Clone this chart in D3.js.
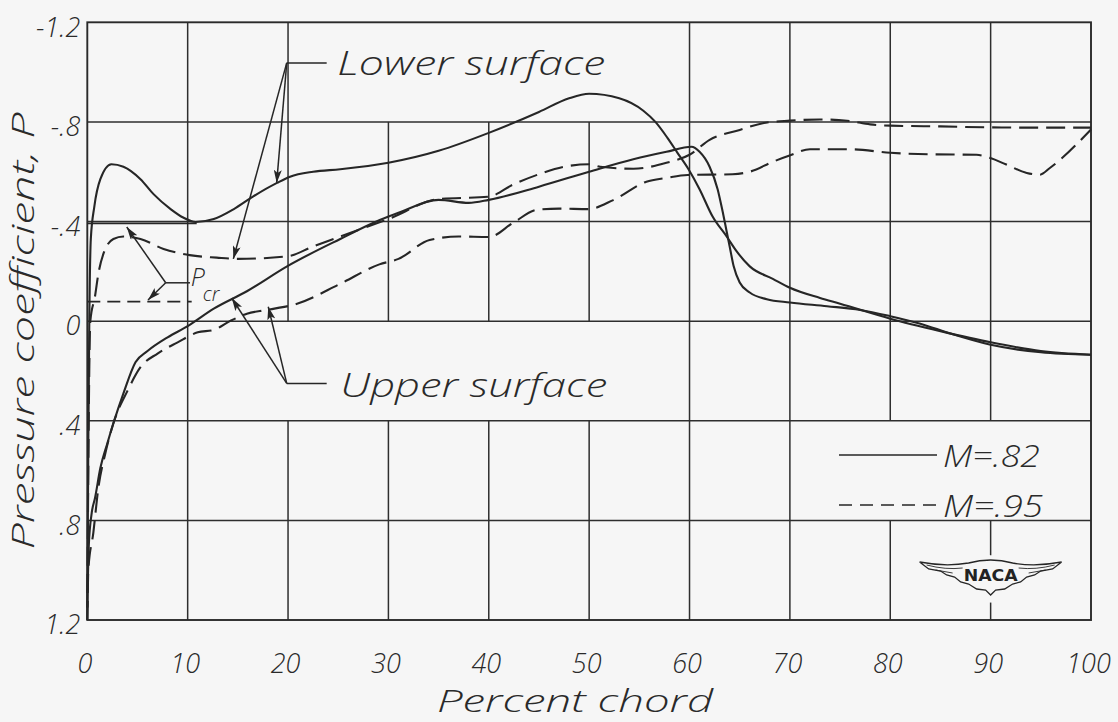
<!DOCTYPE html>
<html><head><meta charset="utf-8">
<script src="https://cdn.jsdelivr.net/npm/d3@7"></script>
<style>
html,body{margin:0;padding:0;background:#f6f6f6;}
svg{display:block;}
.lbl{font-family:"Open Sans","DejaVu Sans",sans-serif;font-style:italic;font-weight:300;fill:#2a2a2a;}
</style></head><body>
<svg id="c" width="1118" height="722"></svg>
<script>
// ---------------- data ----------------
const chordTicks = [0,10,20,30,40,50,60,70,80,90,100];
const pTicks = [-1.2,-0.8,-0.4,0,0.4,0.8,1.2];
const pTickLabels = ["-1.2","-.8","-.4","0",".4",".8","1.2"];

// Lower surface, M = .82 (solid)
const lowerM82Chord = [0,0.1,0.2,0.35,0.7,1.3,2.4,3.6,5.3,6.6,8.3,9.6,10.8,12.6,14.6,16.5,18.9,20.2,22.5,25.2,30,35,40,45,48,50,53,55.4,56.6,57.8,58.8,59.9,61,62.3,63.7,64.7,66,68.3,70,73,75,80,85,90,95,100];
const lowerM82P     = [1.15,0.5,0.0,-0.33,-0.46,-0.57,-0.63,-0.62,-0.57,-0.51,-0.45,-0.415,-0.398,-0.41,-0.45,-0.5,-0.555,-0.58,-0.60,-0.61,-0.636,-0.684,-0.756,-0.84,-0.895,-0.913,-0.895,-0.845,-0.80,-0.736,-0.676,-0.61,-0.53,-0.42,-0.34,-0.28,-0.22,-0.17,-0.134,-0.093,-0.07,-0.01,0.04,0.085,0.12,0.135];

// Upper surface, M = .82 (solid)
const upperM82Chord = [0,0.15,0.44,0.77,1.3,2.0,2.6,3.6,4.8,6.0,8.0,10,12.6,15.9,19.9,25.2,29.2,31,35,38,40,45,50,54.4,57.7,60.2,61,62,62.8,63.3,63.7,64,64.4,65,66,67.7,70,73.7,77,80,83,86,90,95,100];
const upperM82P     = [1.15,0.9,0.77,0.71,0.59,0.49,0.41,0.29,0.165,0.12,0.065,0.02,-0.05,-0.12,-0.22,-0.33,-0.407,-0.435,-0.487,-0.475,-0.487,-0.54,-0.60,-0.65,-0.68,-0.70,-0.68,-0.62,-0.53,-0.44,-0.36,-0.30,-0.22,-0.155,-0.115,-0.088,-0.075,-0.06,-0.045,-0.02,0.01,0.05,0.095,0.125,0.135];

// Lower surface, M = .95 (dashed)
const lowerM95Chord = [0,0.1,0.3,0.77,1.1,1.6,2.6,3.6,5.3,7.6,10.2,12.9,15,19.9,22.5,25.2,30,35,40,42.5,45,47.5,50,51.1,54.4,57.7,60,62,65,67.6,70,73,75.7,78,80,85,90,95,100];
const lowerM95P     = [1.2,0.6,0.0,-0.1,-0.19,-0.27,-0.33,-0.34,-0.33,-0.29,-0.265,-0.255,-0.25,-0.26,-0.30,-0.34,-0.41,-0.49,-0.50,-0.55,-0.59,-0.62,-0.63,-0.62,-0.612,-0.636,-0.668,-0.728,-0.768,-0.797,-0.805,-0.81,-0.805,-0.79,-0.785,-0.782,-0.778,-0.777,-0.777];

// Upper surface, M = .95 (dashed)
const upperM95Chord = [0,0.1,0.6,1.1,1.8,2.6,4.0,5.3,7.0,9.0,11,12.6,14.2,15.9,17.9,20.9,25.2,29.1,31,34.1,37,40,42.4,44.8,47,49.9,52.4,55.7,57.7,59.8,64.3,66,68.3,69.9,72,76,80,84,88.6,89.9,91.5,93.6,94.9,95.9,100];
const upperM95P     = [1.2,1.0,0.85,0.67,0.53,0.41,0.28,0.185,0.13,0.085,0.045,0.035,0.0,-0.03,-0.045,-0.07,-0.15,-0.228,-0.25,-0.326,-0.34,-0.338,-0.394,-0.447,-0.452,-0.45,-0.486,-0.56,-0.575,-0.587,-0.59,-0.60,-0.64,-0.664,-0.69,-0.69,-0.676,-0.67,-0.668,-0.656,-0.63,-0.595,-0.588,-0.615,-0.77];

// critical pressure coefficients
const pcrM82 = -0.393, pcrM82End = 10.9;
const pcrM95 = -0.078, pcrM95End = 10.4;

const legendLabels = ["M=.82","M=.95"];

// ---------------- drawing ----------------
const svg = d3.select("#c");
const x = d3.scaleLinear().domain([0,100]).range([87.3,1091]);
const y = d3.scaleLinear().domain([-1.2,1.2]).range([22.3,620]);
const ink = "#262626";

svg.append("rect").attr("width",1118).attr("height",722).attr("fill","#f6f6f6");

const defs = svg.append("defs");
defs.append("marker").attr("id","ah").attr("viewBox","0 0 13 8").attr("refX",13).attr("refY",4)
  .attr("markerWidth",13).attr("markerHeight",8).attr("markerUnits","userSpaceOnUse").attr("orient","auto")
  .append("path").attr("d","M0,0 L13,4 L0,8 L3,4 Z").attr("fill",ink);

// grid: horizontal lines
const grid = svg.append("g").attr("stroke","#2e2e2e").attr("stroke-width",1.5).attr("fill","none");
grid.selectAll("line.h").data(pTicks.slice(1,-1)).join("line")
  .attr("x1",x(0)).attr("x2",x(100)).attr("y1",d=>y(d)).attr("y2",d=>y(d));

// vertical lines with gaps behind labels / legend / logo
const gaps = [
  {c:30,a:-1.2,b:-0.8},{c:40,a:-1.2,b:-0.8},{c:50,a:-1.2,b:-0.8},
  {c:20,a:0,b:0.4},{c:30,a:0,b:0.4},{c:40,a:0,b:0.4},{c:50,a:0,b:0.4},
  {c:80,a:0.4,b:0.8},{c:90,a:0.4,b:0.8},{c:90,a:0.94,b:1.13}
];
const vsegs = [];
chordTicks.slice(1,-1).forEach(c=>{
  const g = gaps.filter(d=>d.c===c).sort((a,b)=>a.a-b.a);
  let start = -1.2;
  g.forEach(d=>{ if(d.a>start) vsegs.push([c,start,d.a]); start=d.b; });
  if(start<1.2) vsegs.push([c,start,1.2]);
});
grid.selectAll("line.v").data(vsegs).join("line")
  .attr("x1",d=>x(d[0])).attr("x2",d=>x(d[0])).attr("y1",d=>y(d[1])).attr("y2",d=>y(d[2]));

// frame
svg.append("rect").attr("x",x(0)).attr("y",y(-1.2)).attr("width",x(100)-x(0)).attr("height",y(1.2)-y(-1.2))
  .attr("fill","none").attr("stroke","#2a2a2a").attr("stroke-width",1.9);

// axes tick labels
const xAxis = d3.axisBottom(x).tickValues(chordTicks).tickSize(0).tickPadding(0).tickFormat(d3.format("d"));
const gx = svg.append("g").attr("transform",`translate(-3,${y(1.2)+53})`).call(xAxis);
gx.select(".domain").remove();
gx.attr("font-family",null).attr("font-size",null);
gx.selectAll("text").attr("class","lbl").attr("dy",0).attr("fill",null)
  .style("font-size","27px").style("font-style","italic");

const yAxis = d3.axisLeft(y).tickValues(pTicks).tickSize(0).tickPadding(0).tickFormat((d,i)=>pTickLabels[i]);
const gy = svg.append("g").attr("transform",`translate(${x(0)-7},4)`).call(yAxis);
gy.select(".domain").remove();
gy.attr("font-family",null).attr("font-size",null);
gy.selectAll("text").attr("class","lbl").attr("dy","0.36em").attr("fill",null)
  .style("font-size","27px").style("font-style","italic");

// axis titles
svg.append("text").attr("class","lbl").attr("font-size",32)
  .attr("x",575).attr("y",712).attr("text-anchor","middle")
  .attr("textLength",276).attr("lengthAdjust","spacingAndGlyphs").text("Percent chord");
svg.append("text").attr("class","lbl").attr("font-size",32)
  .attr("transform","translate(34,331) rotate(-90)").attr("text-anchor","middle")
  .attr("textLength",437).attr("lengthAdjust","spacingAndGlyphs").text("Pressure coefficient, P");

// P_cr lines
svg.append("line").attr("x1",x(0)).attr("x2",x(pcrM82End)).attr("y1",y(pcrM82)).attr("y2",y(pcrM82))
  .attr("stroke",ink).attr("stroke-width",1.8);
svg.append("line").attr("x1",x(0)).attr("x2",x(pcrM95End)).attr("y1",y(pcrM95)).attr("y2",y(pcrM95))
  .attr("stroke",ink).attr("stroke-width",1.8).attr("stroke-dasharray","13,7");

// curves
const line = d3.line().x(d=>x(d[0])).y(d=>y(d[1])).curve(d3.curveMonotoneX);
const series = [
  {c:lowerM82Chord,p:lowerM82P,dash:null},
  {c:upperM82Chord,p:upperM82P,dash:null},
  {c:lowerM95Chord,p:lowerM95P,dash:"19,8"},
  {c:upperM95Chord,p:upperM95P,dash:"19,8"}
];
svg.append("g").selectAll("path").data(series).join("path")
  .attr("d",s=>line(d3.zip(s.c,s.p)))
  .attr("fill","none").attr("stroke",ink).attr("stroke-width",2.1)
  .attr("stroke-dasharray",s=>s.dash);

// annotations (positions in chord %, P)
const notes = [
  {text:"Lower surface", vertex:[19.87,-1.037], bar:23.85, tips:[[18.87,-0.555],[14.55,-0.25]], tx:24.9, ty:-0.99, len:268},
  {text:"Upper surface", vertex:[19.87,0.25], bar:23.85, tips:[[14.39,-0.093],[18.03,-0.058]], tx:25.2, ty:0.305, len:267}
];
const ann = svg.append("g").attr("stroke",ink).attr("stroke-width",1.5).attr("fill","none");
notes.forEach(n=>{
  ann.append("line").attr("x1",x(n.vertex[0])).attr("y1",y(n.vertex[1])).attr("x2",x(n.bar)).attr("y2",y(n.vertex[1]));
  n.tips.forEach(t=>{
    ann.append("line").attr("x1",x(n.vertex[0])).attr("y1",y(n.vertex[1])).attr("x2",x(t[0])).attr("y2",y(t[1]))
      .attr("marker-end","url(#ah)");
  });
  svg.append("text").attr("class","lbl").attr("font-size",33).attr("x",x(n.tx)).attr("y",y(n.ty))
    .attr("textLength",n.len).attr("lengthAdjust","spacingAndGlyphs").text(n.text);
});
// P_cr annotation
const pcrVertex=[7.81,-0.154], pcrBar=10.23, pcrTips=[[3.93,-0.378],[6.05,-0.085]];
ann.append("line").attr("x1",x(pcrVertex[0])).attr("y1",y(pcrVertex[1])).attr("x2",x(pcrBar)).attr("y2",y(pcrVertex[1]));
pcrTips.forEach(t=>{
  ann.append("line").attr("x1",x(pcrVertex[0])).attr("y1",y(pcrVertex[1])).attr("x2",x(t[0])).attr("y2",y(t[1]))
    .attr("marker-end","url(#ah)");
});
svg.append("text").attr("class","lbl").attr("font-size",25).attr("x",x(10.3)).attr("y",y(-0.14)).text("P");
svg.append("text").attr("class","lbl").attr("font-size",20).attr("x",x(11.5)).attr("y",y(-0.082)).text("cr");

// legend
const lg = svg.append("g");
legendLabels.forEach((lab,i)=>{
  const yy = 455 + i*50;
  lg.append("line").attr("x1",839).attr("x2",937).attr("y1",yy).attr("y2",yy)
    .attr("stroke",ink).attr("stroke-width",1.6).attr("stroke-dasharray",i?"13,8":null);
  lg.append("text").attr("class","lbl").attr("font-size",31).attr("x",943).attr("y",yy+12)
    .attr("textLength",i?100:97).attr("lengthAdjust","spacingAndGlyphs").text(lab);
});

// NACA logo
const logo = svg.append("g").attr("transform",`translate(${x(90)},576)`);
logo.append("path")
  .attr("d","M-71,-14 Q-45,-9 -22,-13 Q0,-19 22,-13 Q45,-9 71,-14 L62,-7 L50,-5 L44,-1 L36,1 L30,6 L22,8 L14,13 L5,14 L0,19 L-5,14 L-14,13 L-22,8 L-30,6 L-36,1 L-44,-1 L-50,-5 L-62,-7 Z")
  .attr("fill","#f6f6f6").attr("stroke",ink).attr("stroke-width",1.3);
logo.append("path").attr("d","M-64,-11 Q-45,-6 -28,-8 M64,-11 Q45,-6 28,-8 M-55,-6 L-38,-3 M55,-6 L38,-3")
  .attr("fill","none").attr("stroke",ink).attr("stroke-width",0.9);
logo.append("text").attr("x",0).attr("y",5).attr("text-anchor","middle")
  .attr("font-family","DejaVu Sans, sans-serif").attr("font-weight","bold").attr("font-size",16)
  .attr("textLength",54).attr("lengthAdjust","spacingAndGlyphs").attr("fill","#222").text("NACA");
</script>
</body></html>
